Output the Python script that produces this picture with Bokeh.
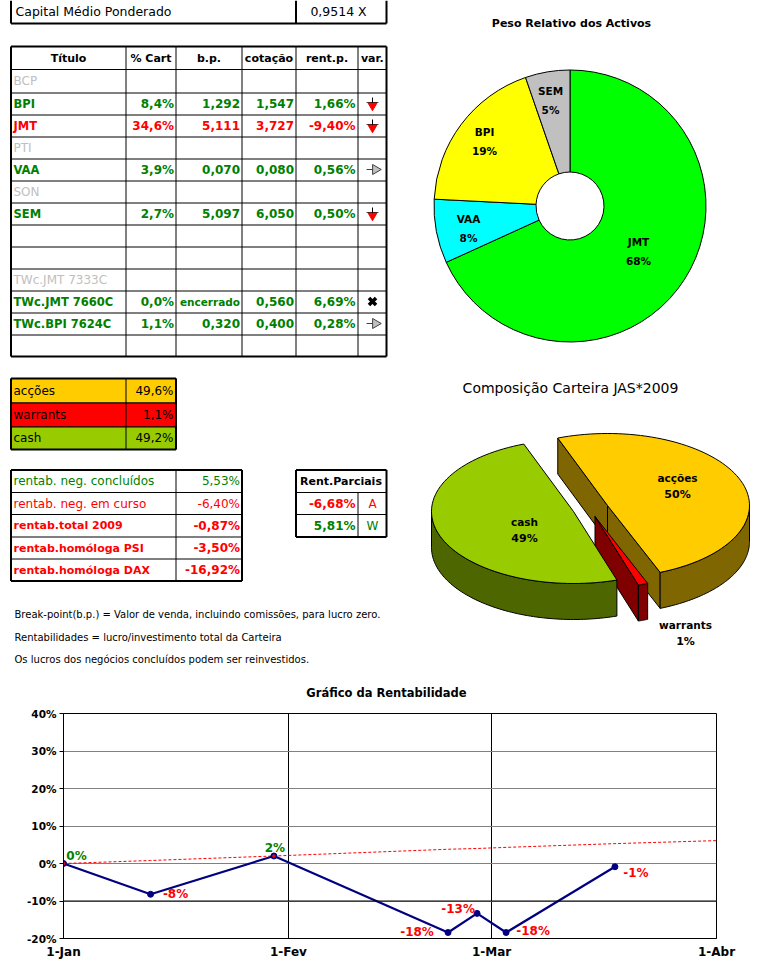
import numpy as np
from bokeh.plotting import figure
from bokeh.layouts import column
from bokeh.models import Range1d, FixedTicker, Span, ColumnDataSource
from bokeh.core.properties import value
from bokeh.embed import file_html
from bokeh.resources import INLINE

FONT = "DejaVu Sans"
GREEN, RED, GREY = "#008000", "#FF0000", "#C0C0C0"

# ---------- data ----------
capital_label = "Capital Médio Ponderado"
capital_value = "0,9514  X"

headers = ["Título", "% Cart", "b.p.", "cotação", "rent.p.", "var."]
titles = ["BCP", "BPI", "JMT", "PTI", "VAA", "SON", "SEM", "", "", "TWc.JMT 7333C", "TWc.JMT 7660C", "TWc.BPI 7624C", ""]
row_state = ["off", "up", "down", "off", "up", "off", "up", "off", "off", "off", "up", "up", "off"]
pct_cart = ["", "8,4%", "34,6%", "", "3,9%", "", "2,7%", "", "", "", "0,0%", "1,1%", ""]
break_point = ["", "1,292", "5,111", "", "0,070", "", "5,097", "", "", "", "encerrado", "0,320", ""]
cotacao = ["", "1,547", "3,727", "", "0,080", "", "6,050", "", "", "", "0,560", "0,400", ""]
rent_p = ["", "1,66%", "-9,40%", "", "0,56%", "", "0,50%", "", "", "", "6,69%", "0,28%", ""]
variation = ["", "down", "down", "", "flat", "", "down", "", "", "", "closed", "flat", ""]

alloc_names = ["acções", "warrants", "cash"]
alloc_text = ["49,6%", "1,1%", "49,2%"]
alloc_share = [49.6, 1.1, 49.2]
alloc_pie_labels = ["50%", "1%", "49%"]
alloc_colors = ["#FFCC00", "#FF0000", "#99CC00"]
alloc_dark = ["#806600", "#800000", "#4D6600"]

rent_names = ["rentab. neg. concluídos", "rentab. neg. em curso", "rentab.total 2009", "rentab.homóloga PSI", "rentab.homóloga DAX"]
rent_vals = ["5,53%", "-6,40%", "-0,87%", "-3,50%", "-16,92%"]
rent_colors = [GREEN, RED, RED, RED, RED]
rent_bold = [False, False, True, True, True]

partial_head = "Rent.Parciais"
partial_vals = ["-6,68%", "5,81%"]
partial_tags = ["A", "W"]
partial_colors = [RED, GREEN]

notes = ["Break-point(b.p.) = Valor de venda, incluindo comissões, para lucro zero.",
         "Rentabilidades = lucro/investimento total da Carteira",
         "Os lucros dos negócios concluídos podem ser reinvestidos."]

donut_names = ["JMT", "VAA", "BPI", "SEM"]
donut_share = [68.2, 7.6, 18.9, 5.3]
donut_labels = ["68%", "8%", "19%", "5%"]
donut_colors = ["#00FF00", "#00FFFF", "#FFFF00", "#C0C0C0"]

title_donut = "Peso Relativo dos Activos"
title_pie = "Composição Carteira JAS*2009"
title_line = "Gráfico da Rentabilidade"

month_days = [0, 31, 59, 90]
month_names = ["1-Jan", "1-Fev", "1-Mar", "1-Abr"]
pct_ticks = [-20, -10, 0, 10, 20, 30, 40]
pct_names = ["-20%", "-10%", "0%", "10%", "20%", "30%", "40%"]
perf_day = [0, 12, 29, 53, 57, 61, 76]
perf_val = [0.0, -8.2, 2.0, -18.4, -13.3, -18.4, -0.87]
perf_text = ["0%", "-8%", "2%", "-18%", "-13%", "-18%", "-1%"]
bench_day = [0, 12, 29, 53, 57, 61, 76, 90]
bench_val = [0.0, 0.8, 2.0, 3.8, 4.0, 4.3, 5.3, 6.1]

# ---------- layout (page pixels) ----------
TOP_H = 702
p = figure(width=762, height=TOP_H, x_range=Range1d(0, 762), y_range=Range1d(0, TOP_H),
           output_backend="svg", toolbar_location=None,
           min_border_left=0, min_border_right=0, min_border_top=0, min_border_bottom=0)
p.axis.visible = False
p.grid.visible = False
p.outline_line_color = None
Y = lambda py: TOP_H - np.asarray(py, dtype=float)


def hv(xa, ya, xb, yb, w=1):
    p.segment(x0=xa, y0=Y(ya), x1=xb, y1=Y(yb), line_color="black", line_width=w)


def put(xs, ys, texts, color="black", bold=False, size="12px", align="left"):
    p.text(x=xs, y=Y(ys), text=texts, text_color=color, text_font=value(FONT),
           text_font_style="bold" if bold else "normal", text_font_size=size,
           text_align=align, text_baseline="middle")


def frame(x0, x1, y0, y1, closed_top=True):
    if closed_top:
        hv([x0], [y0], [x1], [y0], 2)
    hv([x1], [y0], [x1], [y1], 2)
    hv([x0], [y0], [x0], [y1], 2)
    hv([x0], [y1], [x1], [y1], 2)


# capital table
hv([295.5], [0], [295.5], [22.5], 2)
frame(10.5, 386, 0, 23, closed_top=False)
put([15], [11], [capital_label], size="12.5px")
put([340], [11], [capital_value], size="12.5px", align="center")

# main table
col_x = [10.5, 125.5, 175.5, 241.5, 295.5, 357.5, 386]
row_y = [46, 69, 92.5, 114.5, 136.5, 158.5, 180.5, 202.5, 224.5, 246.5, 268.5, 290.5, 312.5, 334.5, 356]
hv(col_x[1:-1], [46] * 5, col_x[1:-1], [356] * 5)
hv([10.5] * 13, row_y[1:-1], [386] * 13, row_y[1:-1])
frame(10.5, 386, 46, 356)
col_mid = [(a + b) / 2 for a, b in zip(col_x[:-1], col_x[1:])]
row_mid = [(a + b) / 2 for a, b in zip(row_y[:-1], row_y[1:])]
put(col_mid, [row_mid[0]] * 6, headers, bold=True, size="11px", align="center")

state_col = {"off": GREY, "up": GREEN, "down": RED}
rows = [m - 0.5 for m in row_mid[1:]]
live = [i for i, t in enumerate(titles) if row_state[i] != "off"]
dead = [i for i, t in enumerate(titles) if t and row_state[i] == "off"]
put([13] * len(dead), [rows[i] for i in dead], [titles[i] for i in dead], color=GREY, size="12px")
put([13] * len(live), [rows[i] for i in live], [titles[i] for i in live],
    color=[state_col[row_state[i]] for i in live], bold=True, size="11.5px")
for col, xr in [(pct_cart, 173.5), (break_point, 239.5), (cotacao, 293.5), (rent_p, 355)]:
    idx = [i for i in live if col[i] and col[i] != "encerrado"]
    put([xr] * len(idx), [rows[i] for i in idx], [col[i] for i in idx],
        color=[state_col[row_state[i]] for i in idx], bold=True, size="12px", align="right")
    idx2 = [i for i in live if col[i] == "encerrado"]
    if idx2:
        put([xr] * 1, [rows[idx2[0]]], ["encerrado"], color=GREEN, bold=True, size="10.5px", align="right")

X_VAR = 372
down_y = [rows[i] for i, v in enumerate(variation) if v == "down"]
flat_y = [rows[i] for i, v in enumerate(variation) if v == "flat"]
shut_y = [rows[i] for i, v in enumerate(variation) if v == "closed"]
p.segment(x0=[X_VAR] * len(down_y), y0=Y(np.array(down_y) - 6), x1=[X_VAR] * len(down_y), y1=Y(np.array(down_y) + 5),
          line_color="black")
p.scatter(x=[X_VAR] * len(down_y), y=Y(np.array(down_y) + 2), marker="inverted_triangle", size=9,
          fill_color=RED, line_color=RED)
p.segment(x0=[X_VAR - 6] * len(down_y), y0=Y(np.array(down_y) - 1), x1=[X_VAR + 6] * len(down_y), y1=Y(np.array(down_y) - 1),
          line_color="black", line_alpha=0.7)
p.segment(x0=[X_VAR - 6] * len(flat_y), y0=Y(flat_y), x1=[X_VAR + 4] * len(flat_y), y1=Y(flat_y), line_color="#404040")
p.scatter(x=[X_VAR + 3] * len(flat_y), y=Y(flat_y), marker="triangle", angle=-np.pi / 2, size=10,
          fill_color="#C0C0C0", line_color="#404040")
p.scatter(x=[X_VAR] * len(shut_y), y=Y(shut_y), marker="x", size=10, line_color="black", line_width=3.5)

# allocation table
a_y = [378, 402.5, 426.5, 449]
p.quad(left=[10.5] * 3, right=[175.5] * 3, top=Y(a_y[:-1]), bottom=Y(a_y[1:]), fill_color=alloc_colors,
       line_color="black")
hv([125.5], [378], [125.5], [449])
frame(10.5, 175.5, 378, 449)
a_mid = [(s + t) / 2 for s, t in zip(a_y[:-1], a_y[1:])]
put([13] * 3, a_mid, alloc_names, size="12px")
put([173] * 3, a_mid, alloc_text, size="12px", align="right")

# returns table
r_y = [469.5, 492, 514, 536.5, 558.5, 580.5]
hv([175.5], [469.5], [175.5], [580.5])
hv([10.5] * 4, r_y[1:-1], [241.5] * 4, r_y[1:-1])
frame(10.5, 241.5, 469.5, 580.5)
r_mid = [(s + t) / 2 for s, t in zip(r_y[:-1], r_y[1:])]
for i in range(5):
    put([13], [r_mid[i]], [rent_names[i]], color=rent_colors[i], bold=rent_bold[i],
        size="11px" if rent_bold[i] else "12px")
    put([239.5], [r_mid[i]], [rent_vals[i]], color=rent_colors[i], bold=rent_bold[i], size="12px", align="right")

# partial table
hv([295.5] * 2, [492, 514], [386] * 2, [492, 514])
hv([357.5], [492], [357.5], [536.5])
frame(295.5, 386, 469.5, 536.5)
put([340.5], [481], [partial_head], bold=True, size="11px", align="center")
put([355] * 2, [503, 525], partial_vals, color=partial_colors, bold=True, size="12px", align="right")
put([372] * 2, [503, 525], partial_tags, color=partial_colors, size="12px", align="center")

# notes
put([14] * 3, [614, 637, 659], notes, size="10px")

# donut
put([571], [23], [title_donut], bold=True, size="11px", align="center")
share = np.array(donut_share) / sum(donut_share)
cum = np.concatenate([[0], np.cumsum(share)])
p.annular_wedge(x=[569.5] * 4, y=Y([205.5] * 4), inner_radius=34, outer_radius=136,
                start_angle=np.pi / 2 - 2 * np.pi * cum[1:], end_angle=np.pi / 2 - 2 * np.pi * cum[:-1],
                fill_color=donut_colors, line_color="black", line_width=1)
dn_x, dn_y = [638, 468, 484, 550], [241, 218, 131, 90]
put(dn_x, dn_y, donut_names, bold=True, size="10.5px", align="center")
put(dn_x, [v + 19 for v in dn_y], donut_labels, bold=True, size="10.5px", align="center")

# exploded 3D pie
put([570], [387], [title_pie], size="14px", align="center")
A, B, DEPTH, T0 = 142, 72, 36, np.radians(-20.5)
centers = [(607, 505), (594.5, 516), (573, 511)]
ps = np.array(alloc_share) / sum(alloc_share)
edge = T0 + 2 * np.pi * np.concatenate([[0], np.cumsum(ps)])


def arc(c, t0, t1):
    t = np.linspace(t0, t1, 80)
    return c[0] + A * np.sin(t), c[1] - B * np.cos(t)


def face(xs, ys, color):
    p.patch(x=list(xs), y=list(Y(ys)), fill_color=color, line_color="black", line_width=1)


def rim(c, t0, t1, color):
    x, y = arc(c, t0, t1)
    face(np.r_[x, x[::-1]], np.r_[y, y[::-1] + DEPTH], color)


def flank(c, t, color):
    x, y = arc(c, t, t)
    face([c[0], x[0], x[0], c[0]], [c[1], y[0], y[0] + DEPTH, c[1] + DEPTH], color)


def top(c, t0, t1, color):
    x, y = arc(c, t0, t1)
    face(np.r_[c[0], x], np.r_[c[1], y], color)


# acções
flank(centers[0], edge[0], alloc_dark[0])
flank(centers[0], edge[1], alloc_dark[0])
rim(centers[0], np.pi / 2, edge[1], alloc_dark[0])
top(centers[0], edge[0], edge[1], alloc_colors[0])
# warrants
flank(centers[1], edge[2], alloc_dark[1])
rim(centers[1], edge[1], edge[2], alloc_dark[1])
top(centers[1], edge[1], edge[2], alloc_colors[1])
# cash
rim(centers[2], edge[2], 3 * np.pi / 2, alloc_dark[2])
top(centers[2], edge[2], edge[3], alloc_colors[2])

pl_x, pl_y = [677, 685, 524], [477, 624, 521]
put(pl_x, pl_y, alloc_names, bold=True, size="10.5px", align="center")
put(pl_x, [v + 17 for v in pl_y], alloc_pie_labels, bold=True, size="11px", align="center")

put([386], [692], [title_line], bold=True, size="11.5px", align="center")

# ---------- performance line chart ----------
q = figure(width=762, height=969 - TOP_H, x_range=Range1d(0, 90), y_range=Range1d(-20, 40),
           output_backend="svg", toolbar_location=None,
           min_border_left=63, min_border_right=46, min_border_top=713 - TOP_H, min_border_bottom=31)
q.outline_line_color = "black"
q.xaxis.ticker = FixedTicker(ticks=month_days)
q.xaxis.major_label_overrides = dict(zip(month_days, month_names))
q.yaxis.ticker = FixedTicker(ticks=pct_ticks)
q.yaxis.major_label_overrides = dict(zip(pct_ticks, pct_names))
for ax in (q.xaxis, q.yaxis):
    ax.axis_line_color = "black"
    ax.minor_tick_line_color = None
    ax.major_label_text_font = FONT
    ax.major_label_text_font_style = "bold"
    ax.major_label_text_color = "black"
q.xaxis.major_tick_line_color = None
q.xaxis.major_label_text_font_size = "12px"
q.xaxis.major_label_standoff = 0
q.yaxis.major_label_text_font_size = "10.5px"
q.yaxis.major_tick_in = 0
q.yaxis.major_tick_out = 4
q.yaxis.major_tick_line_color = "black"
q.yaxis.major_label_standoff = 3
q.xgrid.ticker = FixedTicker(ticks=month_days)
q.ygrid.ticker = FixedTicker(ticks=pct_ticks)
q.xgrid.grid_line_color = "black"
q.ygrid.grid_line_color = "#808080"
q.add_layout(Span(location=-10, dimension="width", line_color="black", line_width=1))

q.line(bench_day, bench_val, line_color=RED, line_width=1, line_dash="3 2")
q.line(perf_day, perf_val, line_color="#000080", line_width=2.2)
q.scatter(perf_day, perf_val, marker="circle", size=6, fill_color="#000080", line_color="#000080")
q.scatter(bench_day[:1] + bench_day[2:3], bench_val[:1] + bench_val[2:3], marker="circle", size=2.5, fill_color=RED, line_color=RED)

label_dx = [13, 25, 1, -31, -19, 27, 21]
label_dy = [-8, 0, -8, -1, -4, -2, 6]
src = ColumnDataSource(dict(x=perf_day, y=perf_val, t=perf_text,
                            c=[GREEN if v >= 0 else RED for v in perf_val], dx=label_dx, dy=label_dy))
q.text(x="x", y="y", text="t", text_color="c", x_offset="dx", y_offset="dy", source=src,
       text_font=value(FONT), text_font_size="12px", text_font_style="bold",
       text_align="center", text_baseline="middle")

page = column(column(p), column(q), spacing=0)
open("out.html", "w").write(file_html(page, INLINE))
